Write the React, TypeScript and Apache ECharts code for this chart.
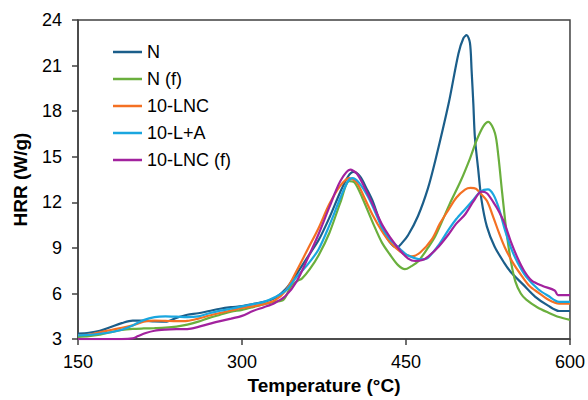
import React, { useEffect, useRef } from "react";
import * as echarts from "echarts";

// Temperature (°C) / HRR (W/g) pairs
const seriesNames = ["N", "N (f)", "10-LNC", "10-L+A", "10-LNC (f)"];
const seriesColors = ["#1b5e8a", "#6aaf3d", "#f47023", "#1aa6df", "#a2229e"];

const nData: number[][] = [
  [150, 3.37], [160, 3.42], [170, 3.55], [180, 3.8], [190, 4.05], [200, 4.22], [210, 4.22], [220, 4.16],
  [230, 4.15], [240, 4.4], [250, 4.6], [260, 4.7], [270, 4.85], [280, 5.0], [290, 5.1], [300, 5.17],
  [310, 5.3], [320, 5.45], [330, 5.7], [340, 6.3], [350, 7.3], [360, 8.4], [370, 9.5], [380, 11.0],
  [390, 12.7], [397, 13.7], [402, 14.0], [408, 13.7], [414, 12.9], [420, 12.0], [428, 10.35], [435, 9.4],
  [441.8, 9.02], [446, 9.3], [452, 9.85], [461, 11.1], [470, 12.9], [477, 14.8], [489, 18.5], [498, 21.8],
  [502.5, 22.8], [505.5, 23.0], [508.5, 22.5], [510, 20.7], [511.6, 18.5], [513, 16.3], [516, 14.2],
  [519, 12.2], [524, 10.4], [531, 9.1], [540, 8.0], [546, 7.4], [557, 6.6], [568, 5.8], [580, 5.2],
  [590, 4.85], [600, 4.85],
];

const nfData: number[][] = [
  [150, 3.15], [160, 3.2], [170, 3.3], [180, 3.45], [190, 3.6], [200, 3.67], [210, 3.7], [220, 3.72],
  [230, 3.75], [240, 3.82], [250, 3.95], [260, 4.15], [270, 4.4], [280, 4.6], [290, 4.8], [300, 4.92],
  [310, 5.1], [320, 5.3], [330, 5.45], [338, 5.6], [345, 6.5], [350, 6.8], [355, 7.0], [362, 7.6],
  [370, 8.5], [380, 10.0], [390, 12.0], [398, 13.4], [403, 13.3], [410, 12.3], [420, 10.6], [428, 9.35],
  [435, 8.6], [443, 7.85], [449, 7.6], [455, 7.8], [461, 8.1], [470, 9.0], [477, 9.8], [490, 11.9],
  [500, 13.4], [508.6, 14.9], [514.7, 16.1], [520.7, 17.0], [525.3, 17.3], [531.4, 16.55], [534.4, 15.1],
  [538, 12.6], [542, 10.0], [546, 8.1], [550, 6.8], [555, 6.0], [560, 5.6], [570, 5.1], [580, 4.75],
  [590, 4.45], [600, 4.27],
];

const lncData: number[][] = [
  [150, 3.27], [160, 3.3], [170, 3.45], [180, 3.6], [190, 3.75], [200, 3.9], [210, 4.15], [220, 4.22],
  [230, 4.2], [240, 4.18], [250, 4.2], [260, 4.35], [270, 4.55], [280, 4.72], [290, 4.88], [300, 5.05],
  [310, 5.15], [320, 5.3], [330, 5.55], [340, 6.2], [350, 7.5], [360, 8.9], [370, 10.3], [380, 11.9],
  [390, 13.1], [398, 13.6], [405, 13.3], [412, 12.3], [420, 11.1], [428, 10.1], [435, 9.4], [445, 8.75],
  [455, 8.45], [463, 8.7], [473.6, 9.56], [481, 10.6], [488.8, 11.5], [496, 12.3], [504, 12.84],
  [509, 12.95], [514, 12.9], [518, 12.6], [524, 12.1], [530, 11.0], [535, 10.0], [540, 9.1], [548, 8.0],
  [556, 7.15], [563, 6.5], [571, 6.06], [580, 5.6], [590, 5.33], [600, 5.33],
];

const laData: number[][] = [
  [150, 3.25], [160, 3.28], [170, 3.35], [180, 3.45], [190, 3.62], [200, 3.9], [210, 4.25], [220, 4.45],
  [230, 4.5], [240, 4.48], [250, 4.45], [260, 4.5], [270, 4.7], [280, 4.87], [290, 5.0], [300, 5.15],
  [310, 5.3], [320, 5.45], [330, 5.75], [340, 6.2], [350, 7.1], [360, 7.9], [370, 8.9], [380, 10.5],
  [390, 12.3], [397, 13.4], [401, 13.6], [407, 13.3], [415, 12.4], [421, 11.5], [428, 10.35], [435, 9.6],
  [445, 8.9], [452, 8.5], [464, 8.25], [470, 8.35], [480, 9.2], [489, 10.2], [496, 10.9], [504, 11.55],
  [512, 12.2], [518, 12.7], [525, 12.85], [530, 12.5], [535, 11.6], [540, 10.3], [546, 9.0], [552, 8.05],
  [560, 7.1], [571, 6.28], [580, 5.85], [590, 5.45], [600, 5.45],
];

const lncfData: number[][] = [
  [150, 3.0], [160, 3.0], [170, 3.0], [180, 3.0], [190, 3.0], [200, 3.05], [205, 3.2], [212, 3.4],
  [220, 3.55], [230, 3.62], [240, 3.65], [250, 3.66], [260, 3.8], [270, 4.0], [280, 4.18], [290, 4.35],
  [300, 4.53], [310, 4.85], [320, 5.1], [330, 5.38], [340, 5.85], [350, 6.8], [360, 8.3], [370, 9.9],
  [380, 11.7], [390, 13.4], [399, 14.15], [405, 13.9], [412, 13.0], [420, 11.8], [428, 10.55], [435, 9.75],
  [445, 8.8], [452, 8.3], [458.5, 8.14], [465, 8.2], [470.6, 8.45], [480, 9.1], [489, 9.9], [496, 10.6],
  [504, 11.2], [512, 12.1], [519, 12.7], [524, 12.6], [530, 12.0], [535, 11.4], [540, 10.65], [546, 9.4],
  [552.6, 8.25], [558, 7.5], [565, 6.85], [575, 6.5], [586, 6.2], [589, 5.9], [600, 5.9],
];

const allData = [nData, nfData, lncData, laData, lncfData];

const xTicks = { min: 150, max: 600, interval: 150 };
const yTicks = { min: 3, max: 24, interval: 3 };

const FONT = "Liberation Sans, Arial, sans-serif";

export default function App() {
  const ref = useRef<HTMLDivElement>(null);
  useEffect(() => {
    if (!ref.current) return;
    const chart = echarts.init(ref.current, undefined, { renderer: "svg" });
    const axisLineStyle = { color: "#404040", width: 1.5 };
    chart.setOption({
      animation: false,
      backgroundColor: "#ffffff",
      grid: {
        left: 78,
        right: 16,
        top: 20,
        bottom: 60,
        show: true,
        borderColor: "#404040",
        borderWidth: 1.5,
        backgroundColor: "transparent",
      },
      legend: {
        orient: "vertical",
        left: 108,
        top: 37,
        icon: "rect",
        itemWidth: 29,
        itemHeight: 2.5,
        itemGap: 7,
        textStyle: { fontFamily: FONT, fontSize: 18, color: "#000", lineHeight: 20 },
        data: seriesNames,
      },
      xAxis: {
        type: "value",
        min: xTicks.min,
        max: xTicks.max,
        interval: xTicks.interval,
        name: "Temperature (°C)",
        nameLocation: "middle",
        nameGap: 35,
        nameTextStyle: { fontFamily: FONT, fontSize: 19, fontWeight: "bold", color: "#000" },
        axisLine: { show: true, lineStyle: axisLineStyle },
        axisTick: { show: true, inside: false, length: 6, lineStyle: axisLineStyle },
        axisLabel: { fontFamily: FONT, fontSize: 18, color: "#000", margin: 14 },
        splitLine: { show: false },
      },
      yAxis: {
        type: "value",
        min: yTicks.min,
        max: yTicks.max,
        interval: yTicks.interval,
        name: "HRR (W/g)",
        nameLocation: "middle",
        nameGap: 48,
        nameTextStyle: { fontFamily: FONT, fontSize: 19, fontWeight: "bold", color: "#000" },
        axisLine: { show: true, lineStyle: axisLineStyle },
        axisTick: { show: true, inside: false, length: 6, lineStyle: axisLineStyle },
        axisLabel: { fontFamily: FONT, fontSize: 18, color: "#000", margin: 16 },
        splitLine: { show: false },
      },
      series: seriesNames.map((name, i) => ({
        name,
        type: "line",
        data: allData[i],
        symbol: "none",
        smooth: 0.3,
        clip: true,
        color: seriesColors[i],
        lineStyle: { color: seriesColors[i], width: 2.2 },
      })),
    });
    return () => chart.dispose();
  }, []);
  return <div ref={ref} style={{ width: 588, height: 400, position: "absolute", left: 0, top: 0 }} />;
}
